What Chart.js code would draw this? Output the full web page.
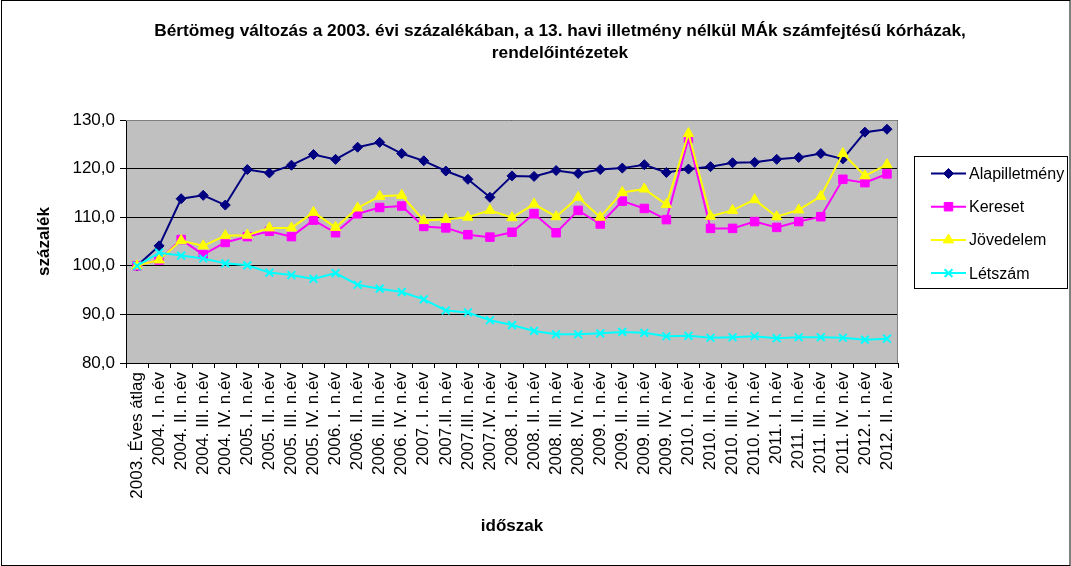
<!DOCTYPE html>
<html>
<head>
<meta charset="utf-8">
<script src="https://cdn.jsdelivr.net/npm/chart.js@4/dist/chart.umd.min.js"></script>
<style>
html,body{margin:0;padding:0;background:#fff;}
#wrap{width:1071px;height:566px;position:relative;}
canvas{display:block;}
</style>
</head>
<body>
<div id="wrap"><canvas id="c" width="1071" height="566"></canvas></div>
<script>
const categories = [
  "2003. Éves átlag",
  "2004. I. n.év","2004. II. n.év","2004. III. n.év","2004. IV. n.év",
  "2005. I. n.év","2005. II. n.év","2005. III. n.év","2005. IV. n.év",
  "2006. I. n.év","2006. II. n.év","2006. III. n.év","2006. IV. n.év",
  "2007. I. n.év","2007.II. n.év","2007.III. n.év","2007.IV. n.év",
  "2008. I. n.év","2008. II. n.év","2008. III. n.év","2008. IV. n.év",
  "2009. I. n.év","2009. II. n.év","2009. III. n.év","2009. IV. n.év",
  "2010. I. n.év","2010. II. n.év","2010. III. n.év","2010. IV. n.év",
  "2011. I. n.év","2011. II. n.év","2011. III. n.év","2011. IV. n.év",
  "2012. I. n.év","2012. II. n.év"
];
const alapilletmeny = [100.0,104.1,113.8,114.5,112.5,119.8,119.1,120.7,122.9,121.9,124.4,125.4,123.1,121.6,119.5,117.8,114.1,118.5,118.4,119.6,119.0,119.8,120.1,120.8,119.2,119.9,120.4,121.2,121.3,121.9,122.3,123.1,122.0,127.5,128.1];
const kereset = [100.0,101.2,105.4,102.3,104.8,106.0,107.1,106.0,109.4,106.8,110.7,112.0,112.3,108.1,107.8,106.4,105.9,106.9,110.7,106.8,111.4,108.6,113.3,111.8,109.5,126.2,107.7,107.7,109.1,107.9,109.1,110.1,117.8,117.1,118.9];
const jovedelem = [100.0,101.2,105.2,104.1,106.2,106.3,107.8,107.8,111.0,107.9,111.9,114.3,114.5,109.3,109.6,110.0,111.4,109.9,112.7,110.1,114.1,110.0,115.1,115.8,112.6,127.2,110.2,111.4,113.6,110.1,111.5,114.3,123.1,118.5,120.8];
const letszam = [100.0,102.7,102.1,101.5,100.5,100.1,98.6,98.1,97.3,98.5,96.1,95.3,94.6,93.1,90.8,90.4,88.8,87.8,86.6,85.9,85.9,86.1,86.4,86.2,85.5,85.6,85.2,85.3,85.5,85.1,85.3,85.3,85.2,84.8,85.0];
const seriesNames = ["Alapilletmény","Kereset","Jövedelem","Létszám"];
const titleLines = ["Bértömeg változás a 2003. évi százalékában, a 13. havi illetmény nélkül MÁk számfejtésű kórházak,","rendelőintézetek"];
const yAxisTitle = "százalék";
const xAxisTitle = "időszak";
const yMin = 80, yMax = 130, yStep = 10;

const FONT = "'Liberation Sans', Arial, sans-serif";

const frameAndBg = {
  id: 'frameAndBg',
  beforeDraw(chart) {
    const {ctx, chartArea: a} = chart;
    ctx.save();
    ctx.fillStyle = '#fff';
    ctx.fillRect(0, 0, chart.width, chart.height);
    ctx.strokeStyle = '#000';
    ctx.lineWidth = 1;
    ctx.strokeRect(1.5, 0.5, chart.width - 2.5, chart.height - 1);
    ctx.fillStyle = '#c0c0c0';
    ctx.fillRect(a.left, a.top, a.right - a.left, a.bottom - a.top);
    // title
    ctx.fillStyle = '#000';
    ctx.font = "bold 17.3px " + FONT;
    ctx.textAlign = 'center';
    ctx.textBaseline = 'middle';
    ctx.fillText(titleLines[0], 560, 31);
    ctx.fillText(titleLines[1], 560, 53);
    ctx.restore();
  },
  beforeDatasetsDraw(chart) {
    const {ctx, chartArea: a} = chart;
    ctx.save();
    ctx.strokeStyle = '#808080';
    ctx.lineWidth = 1;
    ctx.beginPath();
    ctx.moveTo(a.left, Math.round(a.top) + 0.5);
    ctx.lineTo(Math.round(a.right) - 0.5, Math.round(a.top) + 0.5);
    ctx.lineTo(Math.round(a.right) - 0.5, a.bottom);
    ctx.stroke();
    ctx.restore();
  }
};

function drawMarker(ctx, ds, x, y) {
  if (Chart.helpers && Chart.helpers.drawPoint) {
    ctx.save();
    ctx.fillStyle = ds.pointBackgroundColor;
    ctx.strokeStyle = ds.pointBorderColor;
    ctx.lineWidth = ds.pointBorderWidth;
    Chart.helpers.drawPoint(ctx, {pointStyle: ds.pointStyle, radius: ds.pointRadius, rotation: 0, borderWidth: ds.pointBorderWidth}, x, y);
    ctx.restore();
  }
}

const boxLegend = {
  id: 'boxLegend',
  afterDraw(chart) {
    const {ctx} = chart;
    ctx.save();
    ctx.fillStyle = '#fff';
    ctx.fillRect(914, 156, 154, 133);
    ctx.strokeStyle = '#000';
    ctx.lineWidth = 1;
    ctx.strokeRect(914.5, 156.5, 153, 132);
    chart.data.datasets.forEach((ds, i) => {
      const y = 173.5 + i * 33.2;
      ctx.strokeStyle = ds.borderColor;
      ctx.lineWidth = 2;
      ctx.beginPath();
      ctx.moveTo(931, y);
      ctx.lineTo(966, y);
      ctx.stroke();
      drawMarker(ctx, ds, 948.5, y);
      ctx.fillStyle = '#000';
      ctx.font = "16px " + FONT;
      ctx.textAlign = 'left';
      ctx.textBaseline = 'middle';
      ctx.fillText(ds.label, 969, y + 1);
    });
    ctx.restore();
  }
};

const mk = (label, data, color, style, r, bw, order) => ({
  label, data,
  borderColor: color, backgroundColor: color,
  borderWidth: 2,
  pointStyle: style, pointRadius: r, pointHoverRadius: r,
  pointBackgroundColor: color, pointBorderColor: color, pointBorderWidth: bw,
  tension: 0, fill: false, order
});

new Chart(document.getElementById('c'), {
  type: 'line',
  data: {
    labels: categories,
    datasets: [
      mk(seriesNames[0], alapilletmeny, '#000080', 'rectRot', 5, 1, 4),
      mk(seriesNames[1], kereset, '#ff00ff', 'rect', 6, 1, 3),
      mk(seriesNames[2], jovedelem, '#ffff00', 'triangle', 6, 1, 2),
      mk(seriesNames[3], letszam, '#00ffff', 'crossRot', 5.5, 2, 1)
    ]
  },
  options: {
    responsive: false,
    devicePixelRatio: 1,
    animation: false,
    layout: {padding: {left: 11, top: 120, right: 173, bottom: 20}},
    plugins: {
      legend: {display: false},
      title: {display: false},
      tooltip: {enabled: false}
    },
    scales: {
      x: {
        type: 'category',
        offset: true,
        afterFit(scale) { scale.height = 183; },
        grid: {offset: true, drawOnChartArea: false, drawTicks: true, tickLength: 5, color: '#000', lineWidth: 1},
        border: {display: true, color: '#000', width: 1},
        ticks: {autoSkip: false, minRotation: 90, maxRotation: 90, padding: 4, color: '#000', font: {family: FONT, size: 17}},
        title: {display: true, text: xAxisTitle, color: '#000', font: {family: FONT, size: 17, weight: 'bold'}, padding: {top: 0, bottom: 9}}
      },
      y: {
        min: yMin, max: yMax,
        afterFit(scale) { scale.width = 115; },
        grid: {color: '#000', lineWidth: 1, drawTicks: true, tickLength: 6},
        border: {display: true, color: '#000', width: 1},
        ticks: {stepSize: yStep, padding: 5, color: '#000', font: {family: FONT, size: 17},
          callback: v => v.toFixed(1).replace('.', ',')},
        title: {display: true, text: yAxisTitle, color: '#000', font: {family: FONT, size: 17, weight: 'bold'}, padding: {top: 23, bottom: 0}}
      }
    }
  },
  plugins: [frameAndBg, boxLegend]
});
</script>
</body>
</html>
